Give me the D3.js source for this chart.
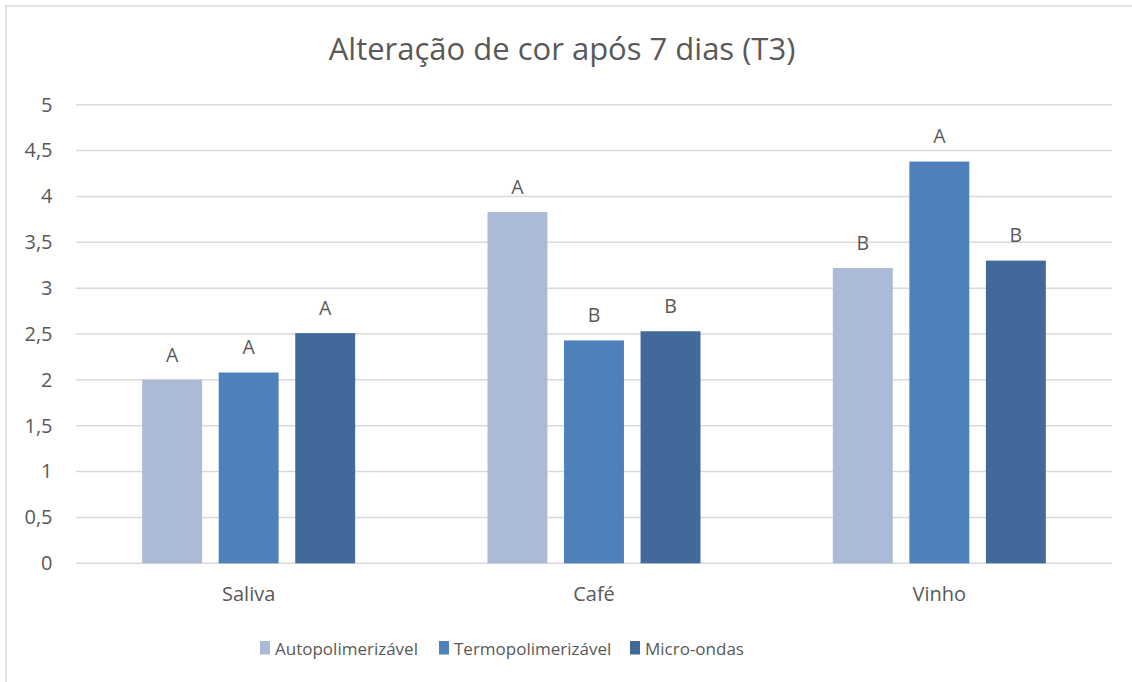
<!DOCTYPE html>
<html>
<head>
<meta charset="utf-8">
<script src="https://cdn.jsdelivr.net/npm/d3@7"></script>
<style>
  body { margin: 0; background: #fff; }
  text { font-family: "Open Sans", "Noto Sans", sans-serif; fill: #595959; }
</style>
</head>
<body>
<div id="chart"></div>
<script>
const categories = ["Saliva", "Café", "Vinho"]
const series = ["Autopolimerizável", "Termopolimerizável", "Micro-ondas"]
const autoValues = [2.0, 3.83, 3.22]
const termoValues = [2.08, 2.43, 4.38]
const microValues = [2.51, 2.53, 3.30]
const autoLetters = ["A", "A", "B"]
const termoLetters = ["A", "B", "A"]
const microLetters = ["A", "B", "B"]
const yTicks = [0, 0.5, 1, 1.5, 2, 2.5, 3, 3.5, 4, 4.5, 5]
const chartTitle = "Alteração de cor após 7 dias (T3)"

const colors = ["#abbad7", "#4e80bc", "#416a9b"]

const W = 1132, H = 682
const MARGIN = { top: 104.7, right: 20, bottom: 118.7, left: 76 }
const WIDTH = W - MARGIN.left - MARGIN.right
const HEIGHT = H - MARGIN.top - MARGIN.bottom

const seriesValues = [autoValues, termoValues, microValues]
const seriesLetters = [autoLetters, termoLetters, microLetters]
const data = []
categories.forEach((c, i) => {
  series.forEach((s, j) => {
    data.push({ category: c, series: s, value: seriesValues[j][i], letter: seriesLetters[j][i] })
  })
})

const svg = d3.select("#chart").append("svg")
  .attr("width", W)
  .attr("height", H)

// chart border (only top and left are visible in the frame)
svg.append("rect")
  .attr("x", 6).attr("y", 6)
  .attr("width", W + 20).attr("height", H + 20)
  .attr("fill", "none")
  .attr("stroke", "#d9d9d9")
  .attr("stroke-width", 1.5)

svg.append("text")
  .attr("x", 562)
  .attr("y", 60)
  .attr("text-anchor", "middle")
  .attr("font-size", "31px")
  .text(chartTitle)

const g = svg.append("g")
  .attr("transform", `translate(${MARGIN.left},${MARGIN.top})`)

const x0 = d3.scaleBand()
  .domain(categories)
  .range([0, WIDTH])

const groupW = 213
const x1 = d3.scaleBand()
  .domain(series)
  .range([(x0.bandwidth() - groupW) / 2, (x0.bandwidth() + groupW) / 2])
  .paddingInner(0.217)

const y = d3.scaleLinear()
  .domain([0, 5])
  .range([HEIGHT, 0])

const color = d3.scaleOrdinal().domain(series).range(colors)

// gridlines
g.append("g")
  .attr("class", "grid")
  .selectAll("line")
  .data(yTicks)
  .enter().append("line")
  .attr("x1", 0)
  .attr("x2", WIDTH)
  .attr("y1", d => y(d))
  .attr("y2", d => y(d))
  .attr("stroke", "#d9d9d9")
  .attr("stroke-width", 1.5)

const yAxisCall = d3.axisLeft(y)
  .tickValues(yTicks)
  .tickSize(0)
  .tickPadding(23.5)
  .tickFormat(d => String(d).replace(".", ","))

const yAxis = g.append("g")
  .attr("class", "y-axis")
  .call(yAxisCall)
yAxis.select(".domain").remove()
yAxis.attr("font-size", null).attr("font-family", null)
yAxis.selectAll("text")
  .attr("font-size", "20px")
  .attr("fill", null)

const xAxisCall = d3.axisBottom(x0)
  .tickSize(0)
  .tickPadding(23.5)

const xAxis = g.append("g")
  .attr("class", "x-axis")
  .attr("transform", `translate(0,${HEIGHT})`)
  .call(xAxisCall)
xAxis.select(".domain").remove()
xAxis.attr("font-size", null).attr("font-family", null)
xAxis.selectAll("text")
  .attr("font-size", "20px")
  .attr("fill", null)

// bars
g.selectAll("rect.bar")
  .data(data)
  .enter().append("rect")
  .attr("class", "bar")
  .attr("x", d => x0(d.category) + x1(d.series))
  .attr("y", d => y(d.value))
  .attr("width", x1.bandwidth())
  .attr("height", d => HEIGHT - y(d.value))
  .attr("fill", d => color(d.series))

// significance letters
g.selectAll("text.letter")
  .data(data)
  .enter().append("text")
  .attr("class", "letter")
  .attr("x", d => x0(d.category) + x1(d.series) + x1.bandwidth() / 2)
  .attr("y", d => y(d.value) - 18.3)
  .attr("text-anchor", "middle")
  .attr("font-size", "19.5px")
  .text(d => d.letter)

// legend
const legendX = [260, 439, 630]
const legend = svg.append("g")
  .attr("class", "legend")
  .attr("transform", "translate(0,641)")

const items = legend.selectAll("g")
  .data(series)
  .enter().append("g")
  .attr("transform", (d, i) => `translate(${legendX[i]},0)`)

items.append("rect")
  .attr("width", 10)
  .attr("height", 13.5)
  .attr("fill", d => color(d))

items.append("text")
  .attr("x", 15)
  .attr("y", 13.5)
  .attr("font-size", "17px")
  .text(d => d)
</script>
</body>
</html>
